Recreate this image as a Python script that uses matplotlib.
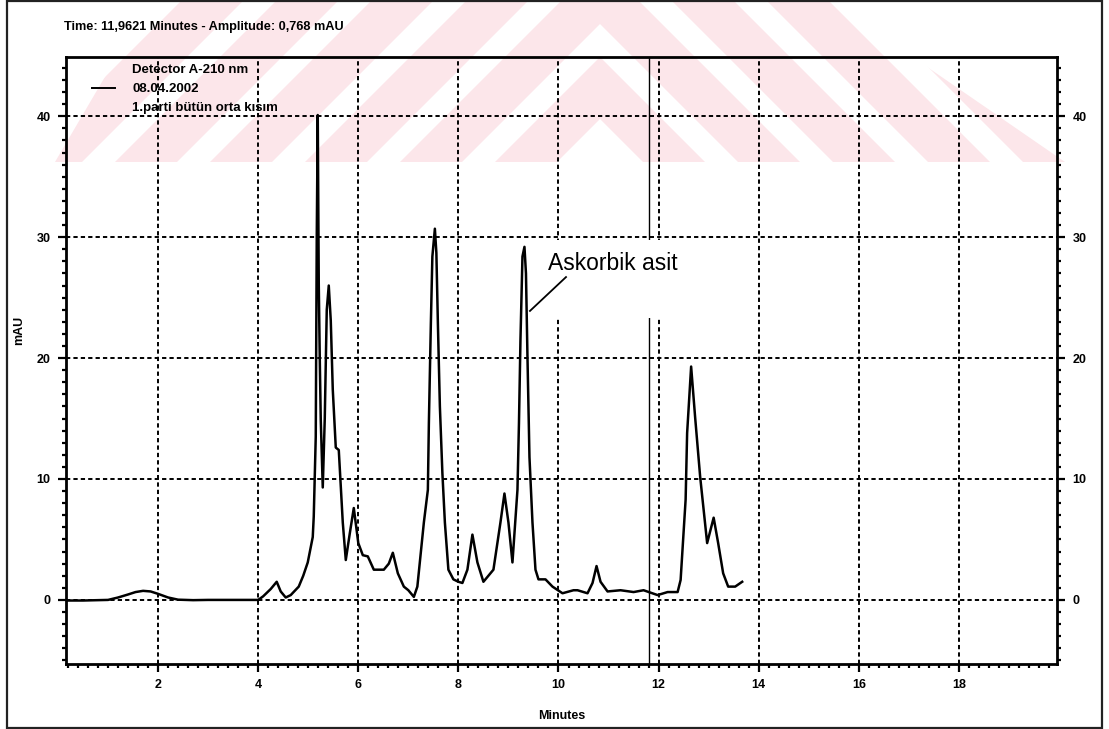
import matplotlib
matplotlib.use("Agg")
import matplotlib.pyplot as plt
import matplotlib.patches as mpatches
from matplotlib.ticker import MultipleLocator

# chromatogram trace (minutes, mAU)
TIME = [0.16, 0.5, 1.0, 1.2, 1.4, 1.55, 1.7, 1.85, 2.0, 2.2, 2.4, 2.7, 3.0, 3.5,
        4.0, 4.1, 4.25, 4.37, 4.45, 4.55, 4.65, 4.81, 4.9, 4.99, 5.09, 5.11,
        5.15, 5.17, 5.19, 5.21, 5.23, 5.25, 5.29, 5.33, 5.37, 5.41, 5.45, 5.49,
        5.55, 5.61, 5.69, 5.75, 5.83, 5.91, 6.0, 6.09, 6.19, 6.31, 6.51, 6.61,
        6.69, 6.79, 6.91, 7.0, 7.11, 7.18, 7.31, 7.39, 7.41, 7.45, 7.48, 7.53,
        7.56, 7.59, 7.63, 7.68, 7.73, 7.80, 7.90, 8.0, 8.08, 8.18, 8.28, 8.38,
        8.50, 8.70, 8.84, 8.92, 9.0, 9.08, 9.18, 9.21, 9.24, 9.28, 9.32, 9.35,
        9.38, 9.42, 9.48, 9.54, 9.60, 9.74, 9.88, 10.08, 10.3, 10.38, 10.58,
        10.68, 10.76, 10.84, 10.98, 11.24, 11.5, 11.7, 11.98, 12.18, 12.38,
        12.44, 12.54, 12.57, 12.65, 12.73, 12.83, 12.97, 13.1, 13.19, 13.29,
        13.39, 13.53, 13.67]
MAU = [-0.05, -0.05, 0.0, 0.2, 0.45, 0.65, 0.75, 0.7, 0.5, 0.2, 0.02, -0.02, 0.0, 0.0,
       0.0, 0.3, 0.9, 1.5, 0.7, 0.2, 0.4, 1.1, 2.0, 3.1, 5.2, 6.9,
       13.5, 30.0, 40.1, 26.2, 20.0, 14.9, 9.3, 15.0, 24.0, 26.0, 23.1, 17.4,
       12.6, 12.4, 6.4, 3.3, 5.5, 7.6, 4.7, 3.7, 3.6, 2.5, 2.5, 3.0,
       3.9, 2.2, 1.1, 0.8, 0.25, 1.1, 6.4, 9.1, 14.6, 22.9, 28.4, 30.7,
       28.7, 22.9, 16.0, 10.5, 6.4, 2.5, 1.7, 1.5, 1.4, 2.5, 5.4, 3.1,
       1.5, 2.5, 6.4, 8.8, 6.4, 3.1, 9.1, 14.6, 21.5, 28.4, 29.2, 27.0,
       20.1, 11.8, 6.4, 2.5, 1.7, 1.7, 1.1, 0.55, 0.8, 0.8, 0.55,
       1.4, 2.8, 1.5, 0.7, 0.8, 0.65, 0.8, 0.4, 0.65, 0.65,
       1.65, 8.3, 13.8, 19.3, 15.1, 10.2, 4.7, 6.8, 4.7, 2.2,
       1.1, 1.1, 1.5]

CURSOR_TIME = 11.81
PEAK_LABEL = "Askorbik asit"
LEADER_T = [9.43, 10.15]
LEADER_Y = [23.9, 26.7]
LABEL_TIME, LABEL_MAU = 9.79, 27.3
LEGEND_LINES = ["Detector A-210 nm", "08.04.2002", "1.parti bütün orta kısım"]
HEADER = "Time: 11,9621 Minutes - Amplitude: 0,768 mAU"

FONT = ["Liberation Sans", "DejaVu Sans"]
W, H = 1109, 729

fig = plt.figure(figsize=(W / 100, H / 100), dpi=100)


def fx(px):
    return px / W


def fy(py):
    return 1 - py / H


# faint striped watermark in the top band: chevrons meeting at the middle
pink = "#fce6ea"
MID = 600
clip_l = mpatches.Polygon([(fx(55), fy(162)), (fx(MID), fy(162)), (fx(MID), fy(0)),
                           (fx(150), fy(0))], closed=True, transform=fig.transFigure,
                          fc="none", ec="none")
clip_r = mpatches.Polygon([(fx(MID), fy(162)), (fx(1065), fy(162)), (fx(830), fy(0)),
                           (fx(MID), fy(0))], closed=True, transform=fig.transFigure,
                          fc="none", ec="none")
for xb in [20, 115, 210, 305, 400, 495]:
    left = [(xb, 162), (xb + 62, 162), (xb + 224, 0), (xb + 162, 0)]
    right = [(2 * MID - a, b) for a, b in left]
    for st, clip in ((left, clip_l), (right, clip_r)):
        p = mpatches.Polygon([(fx(a), fy(b)) for a, b in st], closed=True,
                             transform=fig.transFigure, fc=pink, ec="none", zorder=-5)
        p.set_clip_path(clip)
        fig.patches.append(p)

# outer frame
fig.patches.append(mpatches.Rectangle((fx(7), fy(728)), fx(1102 - 7), (728 - 1) / H,
                                      transform=fig.transFigure, fill=False,
                                      ec="#222222", lw=1.6, zorder=1))

ax = fig.add_axes([fx(66), fy(664), fx(1057 - 66), (664 - 57) / H])
ax.set_facecolor("none")
ax.set_xlim(0.16, 19.96)
ax.set_ylim(-5.3, 44.9)

ax.xaxis.set_major_locator(MultipleLocator(2))
ax.xaxis.set_minor_locator(MultipleLocator(0.2))
ax.yaxis.set_major_locator(MultipleLocator(10))
ax.yaxis.set_minor_locator(MultipleLocator(1))
ax.set_axisbelow(True)
ax.grid(True, which="major", color="black", linestyle=(0, (2.2, 1.6)), linewidth=1.4)

for s in ax.spines.values():
    s.set_linewidth(2.0)

ax.tick_params(which="both", direction="out", right=True, labelright=True,
               top=False, width=1.6)
ax.tick_params(which="major", length=6, pad=5, labelsize=9)
ax.tick_params(which="minor", length=3)
for lab in ax.get_xticklabels() + ax.get_yticklabels():
    lab.set_family(FONT)
    lab.set_fontweight("bold")
for t in ax.yaxis.get_major_ticks():
    t.label2.set_family(FONT)
    t.label2.set_fontweight("bold")

ax.set_xlabel("Minutes", family=FONT, fontsize=9, fontweight="bold")
ax.set_ylabel("mAU", family=FONT, fontsize=9, fontweight="bold")
ax.xaxis.set_label_coords(0.5005, -0.076)
ax.yaxis.set_label_coords(-0.041, 0.55)

# cursor and label box
ax.axvline(CURSOR_TIME, color="black", lw=1.0, zorder=1)
ax.add_patch(mpatches.Rectangle((9.7, 23.3), 3.8, 6.45, fc="white", ec="none", zorder=2))

ax.plot(TIME, MAU, color="black", lw=1.8, zorder=4)

ax.plot(LEADER_T, LEADER_Y, color="black", lw=1.3, zorder=5)
ax.text(LABEL_TIME, LABEL_MAU, PEAK_LABEL, fontsize=16.5, family=FONT,
        va="baseline", ha="left", zorder=5)

# legend block
ax.plot([0.68, 1.14], [42.3, 42.3], color="black", lw=1.4, clip_on=False)
for i, line in enumerate(LEGEND_LINES):
    ax.text(1.48, 43.8 - i * 1.55, line, fontsize=9.5, family=FONT, va="center",
            ha="left", fontweight="bold")

fig.text(fx(64), fy(27), HEADER, fontsize=9.2, family=FONT, fontweight="bold",
         va="center", ha="left")

fig.savefig("out.png", dpi=100)
